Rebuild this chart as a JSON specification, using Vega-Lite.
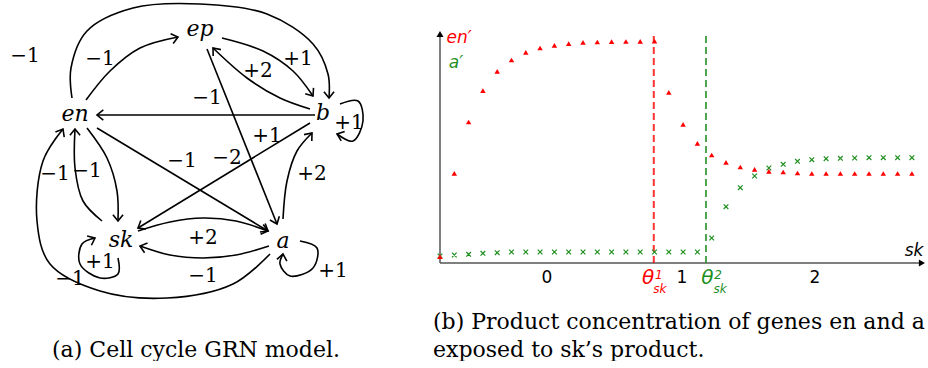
{
  "$schema": "https://vega.github.io/schema/vega-lite/v6.json",
  "background": "white",
  "padding": 0,
  "spacing": 0,
  "bounds": "flush",
  "config": {"view": {"stroke": null}},
  "datasets": {
    "edges": [
      {"e": 1, "k": 1, "x": 86, "y": 99}, {"e": 1, "k": 2, "x": 110, "y": 70}, {"e": 1, "k": 3, "x": 140, "y": 47}, {"e": 1, "k": 4, "x": 178, "y": 36},
      {"e": 2, "k": 1, "x": 72, "y": 97}, {"e": 2, "k": 2, "x": 71, "y": 67}, {"e": 2, "k": 3, "x": 87, "y": 30}, {"e": 2, "k": 4, "x": 133, "y": 7}, {"e": 2, "k": 5, "x": 200, "y": 3}, {"e": 2, "k": 6, "x": 267, "y": 13}, {"e": 2, "k": 7, "x": 313, "y": 43}, {"e": 2, "k": 8, "x": 328, "y": 73}, {"e": 2, "k": 9, "x": 329, "y": 97},
      {"e": 3, "k": 1, "x": 222, "y": 37}, {"e": 3, "k": 2, "x": 263, "y": 50}, {"e": 3, "k": 3, "x": 293, "y": 70}, {"e": 3, "k": 4, "x": 313, "y": 95},
      {"e": 4, "k": 1, "x": 310, "y": 108}, {"e": 4, "k": 2, "x": 280, "y": 97}, {"e": 4, "k": 3, "x": 247, "y": 77}, {"e": 4, "k": 4, "x": 213, "y": 47},
      {"e": 5, "k": 1, "x": 315, "y": 114}, {"e": 5, "k": 2, "x": 97, "y": 114},
      {"e": 6, "k": 1, "x": 207, "y": 48}, {"e": 6, "k": 2, "x": 277, "y": 223},
      {"e": 7, "k": 1, "x": 310, "y": 122}, {"e": 7, "k": 2, "x": 138, "y": 227},
      {"e": 8, "k": 1, "x": 97, "y": 127}, {"e": 8, "k": 2, "x": 268, "y": 230},
      {"e": 9, "k": 1, "x": 283, "y": 218}, {"e": 9, "k": 2, "x": 287, "y": 180}, {"e": 9, "k": 3, "x": 297, "y": 150}, {"e": 9, "k": 4, "x": 312, "y": 132},
      {"e": 10, "k": 1, "x": 340, "y": 103}, {"e": 10, "k": 2, "x": 358, "y": 100}, {"e": 10, "k": 3, "x": 363, "y": 120}, {"e": 10, "k": 4, "x": 353, "y": 140}, {"e": 10, "k": 5, "x": 337, "y": 133},
      {"e": 11, "k": 1, "x": 87, "y": 127}, {"e": 11, "k": 2, "x": 107, "y": 157}, {"e": 11, "k": 3, "x": 117, "y": 190}, {"e": 11, "k": 4, "x": 118, "y": 220},
      {"e": 12, "k": 1, "x": 102, "y": 220}, {"e": 12, "k": 2, "x": 83, "y": 200}, {"e": 12, "k": 3, "x": 75, "y": 167}, {"e": 12, "k": 4, "x": 75, "y": 128},
      {"e": 13, "k": 1, "x": 138, "y": 230}, {"e": 13, "k": 2, "x": 170, "y": 221}, {"e": 13, "k": 3, "x": 203, "y": 217}, {"e": 13, "k": 4, "x": 236, "y": 220}, {"e": 13, "k": 5, "x": 268, "y": 230},
      {"e": 14, "k": 1, "x": 269, "y": 245}, {"e": 14, "k": 2, "x": 236, "y": 254}, {"e": 14, "k": 3, "x": 203, "y": 257}, {"e": 14, "k": 4, "x": 170, "y": 254}, {"e": 14, "k": 5, "x": 140, "y": 245},
      {"e": 15, "k": 1, "x": 270, "y": 253}, {"e": 15, "k": 2, "x": 233, "y": 283}, {"e": 15, "k": 3, "x": 167, "y": 297}, {"e": 15, "k": 4, "x": 100, "y": 290}, {"e": 15, "k": 5, "x": 50, "y": 263}, {"e": 15, "k": 6, "x": 37, "y": 220}, {"e": 15, "k": 7, "x": 43, "y": 160}, {"e": 15, "k": 8, "x": 63, "y": 128},
      {"e": 16, "k": 1, "x": 118, "y": 257}, {"e": 16, "k": 2, "x": 118, "y": 273}, {"e": 16, "k": 3, "x": 100, "y": 277}, {"e": 16, "k": 4, "x": 80, "y": 263}, {"e": 16, "k": 5, "x": 82, "y": 243}, {"e": 16, "k": 6, "x": 95, "y": 237},
      {"e": 17, "k": 1, "x": 300, "y": 240}, {"e": 17, "k": 2, "x": 317, "y": 247}, {"e": 17, "k": 3, "x": 313, "y": 267}, {"e": 17, "k": 4, "x": 290, "y": 275}, {"e": 17, "k": 5, "x": 280, "y": 263}, {"e": 17, "k": 6, "x": 283, "y": 253}
    ],
    "heads": [
      {"x": 178, "y": 36, "ang": -15}, {"x": 329, "y": 97, "ang": 90}, {"x": 313, "y": 95, "ang": 55},
      {"x": 213, "y": 47, "ang": -130}, {"x": 97, "y": 114, "ang": 180}, {"x": 277, "y": 223, "ang": 68},
      {"x": 138, "y": 227, "ang": 149}, {"x": 268, "y": 230, "ang": 31}, {"x": 312, "y": 132, "ang": -50},
      {"x": 337, "y": 133, "ang": -160}, {"x": 118, "y": 220, "ang": 90}, {"x": 75, "y": 128, "ang": -90},
      {"x": 268, "y": 230, "ang": 15}, {"x": 140, "y": 245, "ang": -163}, {"x": 63, "y": 128, "ang": -60},
      {"x": 95, "y": 237, "ang": -25}, {"x": 283, "y": 253, "ang": -80}
    ],
    "weights": [
      {"x": 25, "y": 55, "t": "−1"}, {"x": 100, "y": 58, "t": "−1"}, {"x": 298, "y": 58, "t": "+1"},
      {"x": 258, "y": 70, "t": "+2"}, {"x": 207, "y": 97, "t": "−1"}, {"x": 349, "y": 122, "t": "+1"},
      {"x": 267, "y": 135, "t": "+1"}, {"x": 182, "y": 160, "t": "−1"}, {"x": 227, "y": 157, "t": "−2"},
      {"x": 312, "y": 173, "t": "+2"}, {"x": 55, "y": 173, "t": "−1"}, {"x": 87, "y": 170, "t": "−1"},
      {"x": 203, "y": 237, "t": "+2"}, {"x": 100, "y": 261, "t": "+1"}, {"x": 70, "y": 278, "t": "−1"},
      {"x": 203, "y": 275, "t": "−1"}, {"x": 333, "y": 270, "t": "+1"}
    ],
    "nodes": [
      {"x": 200, "y": 28, "t": "ep"}, {"x": 75, "y": 113, "t": "en"}, {"x": 323, "y": 112, "t": "b"},
      {"x": 121, "y": 239, "t": "sk"}, {"x": 283, "y": 240, "t": "a"}
    ],
    "conc": [
      {"i": 0, "en": 6.3, "a": 7}, {"i": 1, "en": 89.7, "a": 8}, {"i": 2, "en": 141, "a": 8.7},
      {"i": 3, "en": 172.3, "a": 9.7}, {"i": 4, "en": 191.7, "a": 10.3}, {"i": 5, "en": 203, "a": 11},
      {"i": 6, "en": 210.7, "a": 11}, {"i": 7, "en": 215, "a": 11}, {"i": 8, "en": 217.7, "a": 11},
      {"i": 9, "en": 219.3, "a": 11}, {"i": 10, "en": 220.7, "a": 11}, {"i": 11, "en": 221, "a": 11},
      {"i": 12, "en": 221.3, "a": 11}, {"i": 13, "en": 221.5, "a": 11}, {"i": 14, "en": 221.7, "a": 11},
      {"i": 15, "en": 221.8, "a": 11}, {"i": 16, "en": 170.7, "a": 11}, {"i": 17, "en": 138.7, "a": 11},
      {"i": 18, "en": 119.7, "a": 11}, {"i": 19, "en": 108, "a": 25}, {"i": 20, "en": 100.7, "a": 56.3},
      {"i": 21, "en": 96, "a": 75.3}, {"i": 22, "en": 93.7, "a": 87}, {"i": 23, "en": 91.7, "a": 95},
      {"i": 24, "en": 91, "a": 98.7}, {"i": 25, "en": 90, "a": 101.7}, {"i": 26, "en": 89.5, "a": 103.3},
      {"i": 27, "en": 89.5, "a": 104.3}, {"i": 28, "en": 89.5, "a": 104.7}, {"i": 29, "en": 89.5, "a": 105},
      {"i": 30, "en": 89.5, "a": 105.3}, {"i": 31, "en": 89.5, "a": 105.3}, {"i": 32, "en": 89.5, "a": 105.3},
      {"i": 33, "en": 89.5, "a": 105.3}
    ],
    "thresholds": [{"x": 14.95, "g": "en"}, {"x": 18.6, "g": "a"}],
    "axes": [{"x": 0, "y": 0, "x2": 0, "y2": 228}, {"x": 0, "y": 0, "x2": 33.57, "y2": 0}],
    "arrows": [{"x": 0, "y": 229, "s": "triangle-up"}, {"x": 33.7, "y": 0, "s": "triangle-right"}],
    "ticklabels": [
      {"x": 7.48, "y": -14.5, "t": "0"}, {"x": 16.92, "y": -14.5, "t": "1"}, {"x": 26.22, "y": -14.5, "t": "2"}
    ],
    "thetas": [{"x": 14.55, "y": -15, "t": "θ", "g": "en"}, {"x": 18.7, "y": -15, "t": "θ", "g": "a"}],
    "scripts": [
      {"x": 15.31, "y": -11.5, "t": "1", "g": "en"}, {"x": 15.38, "y": -26, "t": "sk", "g": "en"},
      {"x": 19.44, "y": -11.5, "t": "2", "g": "a"}, {"x": 19.58, "y": -26, "t": "sk", "g": "a"}
    ],
    "axlabels": [
      {"x": 1.33, "y": 225, "t": "en′", "g": "en"}, {"x": 1.12, "y": 200, "t": "a′", "g": "a"},
      {"x": 33.15, "y": 12, "t": "sk", "g": "k"}
    ]
  },
  "hconcat": [
    {
      "width": 400,
      "height": 310,
      "title": {"text": "(a) Cell cycle GRN model.", "orient": "bottom", "anchor": "middle", "offset": 29, "dx": -4, "font": "DejaVu Serif", "fontSize": 22, "fontWeight": "normal", "color": "black"},
      "layer": [
        {
          "data": {"name": "edges"},
          "mark": {"type": "line", "interpolate": "catmull-rom", "stroke": "black", "strokeWidth": 1.6},
          "encoding": {
            "x": {"field": "x", "type": "quantitative", "scale": {"domain": [0, 400], "nice": false, "zero": false}, "axis": null},
            "y": {"field": "y", "type": "quantitative", "scale": {"domain": [0, 310], "nice": false, "zero": false, "reverse": true}, "axis": null},
            "detail": {"field": "e", "type": "nominal"},
            "order": {"field": "k", "type": "quantitative"}
          }
        },
        {
          "data": {"name": "heads"},
          "mark": {"type": "point", "shape": "M -1 -0.8 L 0 0 L -1 0.8", "filled": false, "stroke": "black", "strokeWidth": 1.6, "size": 160, "opacity": 1},
          "encoding": {
            "x": {"field": "x", "type": "quantitative"},
            "y": {"field": "y", "type": "quantitative"},
            "angle": {"field": "ang", "type": "quantitative", "scale": null}
          }
        },
        {
          "data": {"name": "weights"},
          "mark": {"type": "text", "font": "DejaVu Serif", "fontSize": 20, "align": "center", "baseline": "middle", "color": "black"},
          "encoding": {
            "x": {"field": "x", "type": "quantitative"},
            "y": {"field": "y", "type": "quantitative"},
            "text": {"field": "t", "type": "nominal"}
          }
        },
        {
          "data": {"name": "nodes"},
          "mark": {"type": "text", "font": "DejaVu Serif", "fontStyle": "italic", "fontSize": 22, "align": "center", "baseline": "middle", "color": "black"},
          "encoding": {
            "x": {"field": "x", "type": "quantitative"},
            "y": {"field": "y", "type": "quantitative"},
            "text": {"field": "t", "type": "nominal"}
          }
        }
      ]
    },
    {
      "width": 528,
      "height": 310,
      "title": {"text": ["(b) Product concentration of genes en and a", "exposed to sk’s product."], "orient": "bottom", "anchor": "start", "offset": 1, "dx": 33, "lineHeight": 28, "font": "DejaVu Serif", "fontSize": 22, "fontWeight": "normal", "color": "black"},
      "resolve": {"scale": {"color": "shared"}},
      "layer": [
        {
          "data": {"name": "axes"},
          "mark": {"type": "rule", "stroke": "#555555", "strokeWidth": 1.5},
          "encoding": {
            "x": {"field": "x", "type": "quantitative", "scale": {"domain": [-2.797, 34.126], "nice": false, "zero": false}, "axis": null},
            "y": {"field": "y", "type": "quantitative", "scale": {"domain": [-48, 262], "nice": false, "zero": false}, "axis": null},
            "x2": {"field": "x2"},
            "y2": {"field": "y2"}
          }
        },
        {
          "data": {"name": "arrows"},
          "mark": {"type": "point", "filled": true, "color": "black", "size": 50, "opacity": 1},
          "encoding": {
            "x": {"field": "x", "type": "quantitative"},
            "y": {"field": "y", "type": "quantitative"},
            "shape": {"field": "s", "type": "nominal", "scale": null}
          }
        },
        {
          "data": {"name": "thresholds"},
          "mark": {"type": "rule", "strokeWidth": 2, "strokeDash": [7, 4], "opacity": 0.8},
          "encoding": {
            "x": {"field": "x", "type": "quantitative"},
            "y": {"datum": 0},
            "y2": {"datum": 231},
            "color": {"field": "g", "type": "nominal", "scale": {"domain": ["en", "a", "k"], "range": ["#ff0000", "#1f8f1f", "#000000"]}, "legend": null}
          }
        },
        {
          "data": {"name": "conc"},
          "mark": {"type": "point", "shape": "M -1 -1 L 1 1 M -1 1 L 1 -1", "filled": false, "stroke": "#1f8f1f", "strokeWidth": 1.2, "size": 22, "opacity": 1},
          "encoding": {
            "x": {"field": "i", "type": "quantitative"},
            "y": {"field": "a", "type": "quantitative"}
          }
        },
        {
          "data": {"name": "conc"},
          "mark": {"type": "point", "shape": "triangle-up", "filled": true, "color": "#ff0000", "size": 30, "opacity": 1},
          "encoding": {
            "x": {"field": "i", "type": "quantitative"},
            "y": {"field": "en", "type": "quantitative"}
          }
        },
        {
          "data": {"name": "ticklabels"},
          "mark": {"type": "text", "font": "DejaVu Sans", "fontSize": 17, "align": "center", "baseline": "middle", "color": "black"},
          "encoding": {
            "x": {"field": "x", "type": "quantitative"},
            "y": {"field": "y", "type": "quantitative"},
            "text": {"field": "t", "type": "nominal"}
          }
        },
        {
          "data": {"name": "thetas"},
          "mark": {"type": "text", "font": "DejaVu Sans", "fontStyle": "italic", "fontSize": 20, "align": "center", "baseline": "middle"},
          "encoding": {
            "x": {"field": "x", "type": "quantitative"},
            "y": {"field": "y", "type": "quantitative"},
            "text": {"field": "t", "type": "nominal"},
            "color": {"field": "g", "type": "nominal", "legend": null}
          }
        },
        {
          "data": {"name": "scripts"},
          "mark": {"type": "text", "font": "DejaVu Sans", "fontStyle": "italic", "fontSize": 12, "align": "center", "baseline": "middle"},
          "encoding": {
            "x": {"field": "x", "type": "quantitative"},
            "y": {"field": "y", "type": "quantitative"},
            "text": {"field": "t", "type": "nominal"},
            "color": {"field": "g", "type": "nominal", "legend": null}
          }
        },
        {
          "data": {"name": "axlabels"},
          "mark": {"type": "text", "font": "DejaVu Sans", "fontStyle": "italic", "fontSize": 17, "align": "center", "baseline": "middle"},
          "encoding": {
            "x": {"field": "x", "type": "quantitative"},
            "y": {"field": "y", "type": "quantitative"},
            "text": {"field": "t", "type": "nominal"},
            "color": {"field": "g", "type": "nominal", "legend": null}
          }
        }
      ]
    }
  ]
}
